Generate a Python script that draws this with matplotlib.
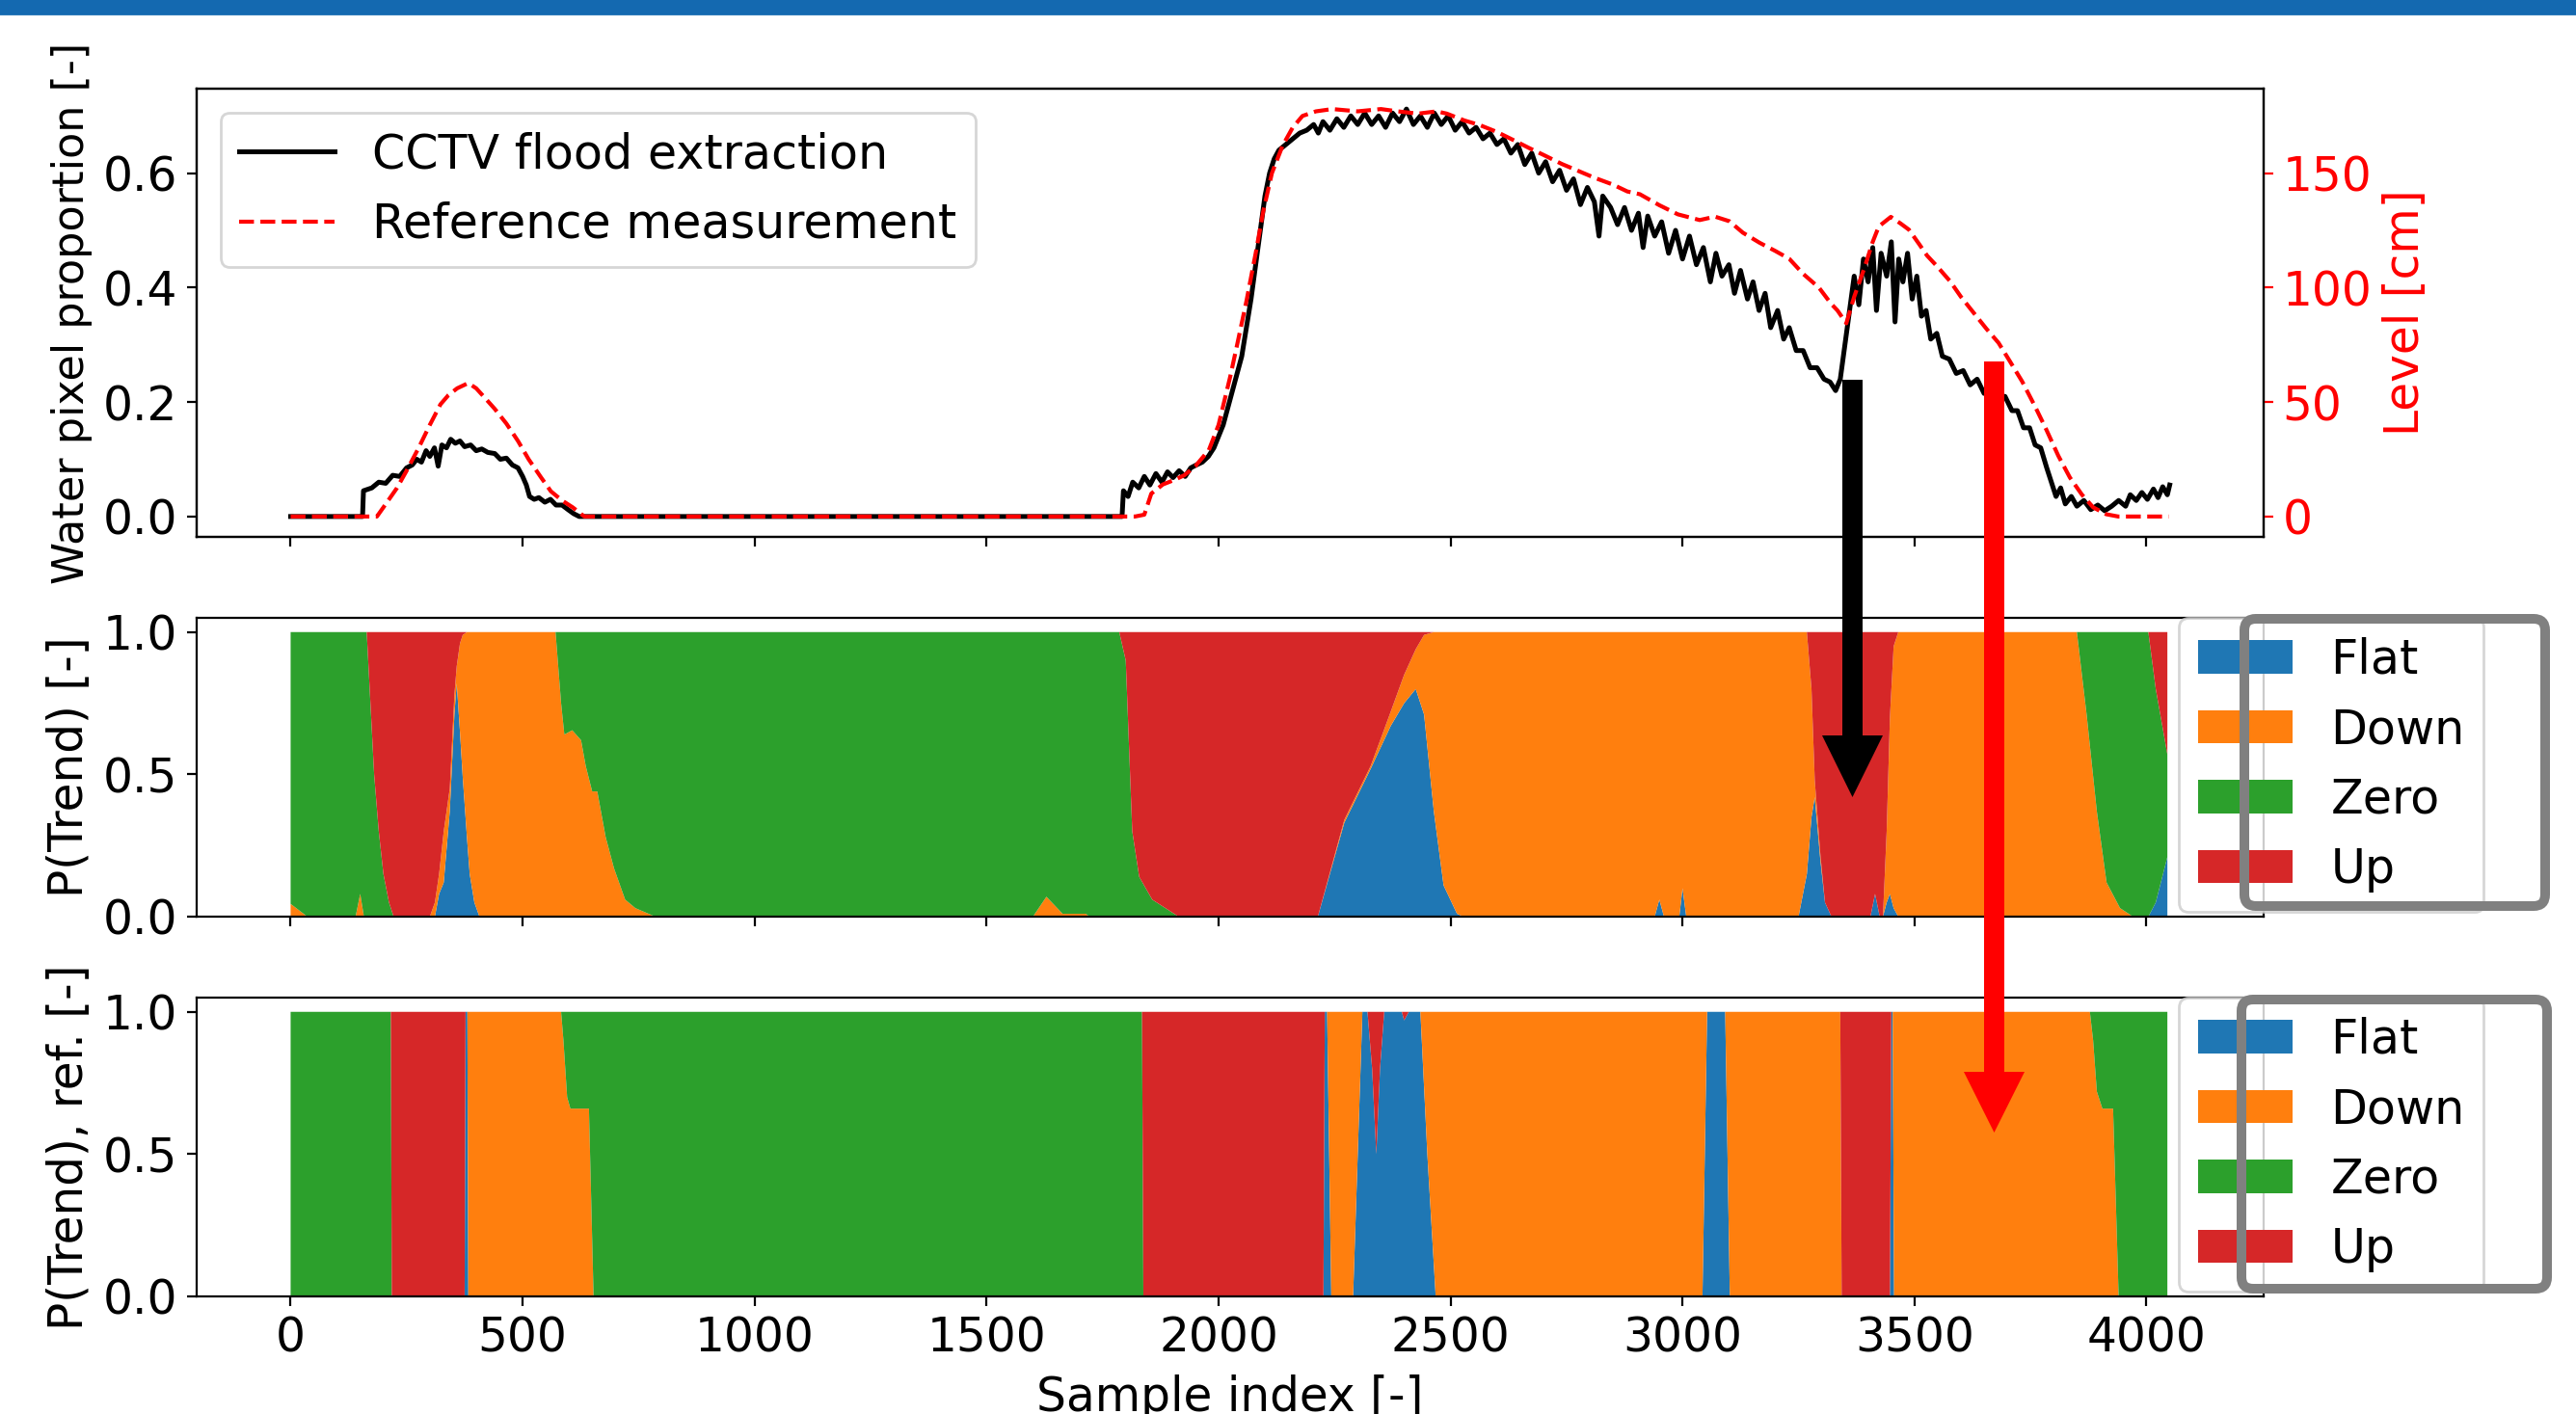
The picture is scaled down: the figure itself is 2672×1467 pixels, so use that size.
import matplotlib
matplotlib.use('Agg')
import matplotlib.pyplot as plt
from matplotlib.patches import FancyBboxPatch, FancyArrow, Rectangle
from matplotlib.transforms import IdentityTransform
import numpy as np

# ---------------- top panel: water pixel proportion and reference level --------------
cctv_x = [0, 155, 157, 175, 190, 205, 220, 235, 250, 262, 272, 282, 292, 300, 310, 318,
          326, 336, 345, 355, 365, 375, 388, 400, 412, 425, 440, 452, 465, 478, 490, 500,
          508, 515, 525, 535, 548, 560, 572, 585, 598, 610, 622,
          1790, 1792, 1795, 1805, 1815, 1828, 1840, 1852, 1865, 1878, 1890, 1902, 1915,
          1928, 1940, 1952, 1965, 1978, 1990, 2000, 2010, 2020, 2030, 2040, 2050, 2060,
          2070, 2080, 2090, 2100, 2110, 2120, 2130, 2145, 2160, 2175, 2190, 2205, 2215,
          2225, 2240, 2255, 2270, 2285, 2300, 2315, 2330, 2345, 2360, 2375, 2390, 2405,
          2420, 2435, 2450, 2465, 2480, 2495, 2510, 2525, 2540, 2555, 2570, 2585, 2600,
          2615, 2630, 2645, 2660, 2675, 2690, 2705, 2720, 2735, 2750, 2765, 2780, 2795,
          2810, 2820, 2828, 2845, 2860, 2875, 2890, 2905, 2915, 2925, 2940, 2955, 2970,
          2985, 3000, 3015, 3030, 3045, 3060, 3072, 3085, 3100, 3112, 3125, 3140, 3152,
          3165, 3178, 3190, 3205, 3218, 3230, 3245, 3260, 3275, 3290, 3305, 3318, 3330,
          3340, 3350, 3360, 3370, 3380, 3390, 3400, 3410, 3418, 3428, 3440, 3450, 3458,
          3466, 3475, 3485, 3495, 3505, 3515, 3525, 3535, 3548, 3560, 3575, 3590, 3605,
          3620, 3635, 3650, 3665, 3680, 3695, 3710, 3722, 3735, 3748, 3760, 3772, 3785,
          3795, 3805, 3815, 3825, 3838, 3850, 3865, 3880, 3895, 3910, 3925, 3940, 3955,
          3965, 3978, 3990, 4002, 4015, 4025, 4035, 4045, 4050]
cctv_y = [0, 0, 0.045, 0.05, 0.06, 0.058, 0.072, 0.07, 0.085, 0.09, 0.1, 0.095, 0.115, 0.105,
          0.12, 0.088, 0.125, 0.12, 0.135, 0.128, 0.132, 0.122, 0.125, 0.115, 0.118, 0.112,
          0.11, 0.1, 0.102, 0.09, 0.085, 0.07, 0.055, 0.035, 0.03, 0.033, 0.025, 0.03, 0.02,
          0.02, 0.012, 0.005, 0.0,
          0.0, 0.0, 0.045, 0.035, 0.06, 0.05, 0.07, 0.055, 0.075, 0.06, 0.078, 0.068, 0.08,
          0.07, 0.085, 0.09, 0.095, 0.105, 0.12, 0.14, 0.16, 0.19, 0.22, 0.25, 0.28, 0.33,
          0.38, 0.44, 0.5, 0.56, 0.6, 0.625, 0.64, 0.65, 0.66, 0.67, 0.675, 0.685, 0.67,
          0.69, 0.675, 0.695, 0.68, 0.7, 0.685, 0.705, 0.685, 0.7, 0.68, 0.705, 0.69, 0.712,
          0.685, 0.7, 0.68, 0.705, 0.685, 0.7, 0.675, 0.69, 0.67, 0.68, 0.66, 0.67, 0.65,
          0.66, 0.635, 0.65, 0.615, 0.635, 0.6, 0.62, 0.585, 0.605, 0.57, 0.59, 0.545, 0.575,
          0.55, 0.49, 0.56, 0.54, 0.51, 0.54, 0.5, 0.53, 0.47, 0.525, 0.49, 0.515, 0.46,
          0.5, 0.45, 0.49, 0.44, 0.47, 0.41, 0.46, 0.42, 0.44, 0.39, 0.43, 0.38, 0.41,
          0.36, 0.39, 0.33, 0.36, 0.31, 0.33, 0.29, 0.29, 0.26, 0.26, 0.24, 0.235, 0.22,
          0.24, 0.3, 0.36, 0.42, 0.37, 0.45, 0.41, 0.47, 0.36, 0.46, 0.42, 0.48, 0.34,
          0.45, 0.41, 0.46, 0.38, 0.42, 0.35, 0.36, 0.31, 0.32, 0.28, 0.275, 0.25, 0.255,
          0.23, 0.24, 0.215, 0.225, 0.2, 0.21, 0.185, 0.185, 0.155, 0.155, 0.125, 0.12, 0.085,
          0.06, 0.035, 0.05, 0.022, 0.035, 0.018, 0.028, 0.012, 0.02, 0.01, 0.018, 0.028, 0.018,
          0.038, 0.028, 0.042, 0.03, 0.048, 0.033, 0.052, 0.038, 0.055]

ref_x = [0, 186, 200, 229, 250, 276, 300, 323, 340, 359, 383, 400, 418, 440, 465, 490,
         513, 540, 561, 585, 608, 633,
         1820, 1840, 1855, 1880, 1905, 1926, 1950, 1979, 2000, 2025, 2040, 2060, 2080,
         2096, 2115, 2138, 2160, 2181, 2210, 2245, 2300, 2350, 2386, 2430, 2470, 2492,
         2530, 2563, 2600, 2640, 2669, 2700, 2740, 2775, 2810, 2850, 2881, 2908, 2950,
         2990, 3037, 3070, 3101, 3130, 3166, 3200, 3230, 3260, 3294, 3320, 3334, 3353,
         3370, 3391, 3410, 3423, 3449, 3470, 3488, 3510, 3527, 3550, 3577, 3600, 3629,
         3655, 3681, 3705, 3732, 3760, 3784, 3810, 3835, 3861, 3885, 3913, 3939, 4048]
ref_cm = [0, 0, 4, 12.4, 20, 30, 40, 49, 53, 56, 58.3, 56, 52, 47, 40.6, 33,
          25, 17, 11, 7, 4, 0,
          0, 0.8, 10, 14, 16, 18, 22, 29, 40, 61, 75, 94, 115,
          133, 150, 162, 170, 175, 177, 178, 177, 178, 177, 176, 177, 176,
          173, 171, 168, 164, 161, 158, 154, 151, 148, 145, 142, 140.8, 136,
          132, 129.5, 131, 129, 124, 119.6, 116, 112.6, 106, 100, 93, 90, 84.4,
          96, 108, 120, 126.7, 130.9, 128, 125.3, 119, 114, 109, 102.7, 96, 88.6,
          82, 75.9, 68, 59, 48, 38, 26.5, 17, 9.5, 4, 1, 0, 0]

# ---------------- middle panel: trend probabilities from CCTV --------------------
trend_labels = ['Flat', 'Down', 'Zero', 'Up']
cctv_t = [0, 36, 140, 150, 158, 164, 172, 180, 190, 200, 212, 222, 300, 311, 320, 330,
          343, 353, 358, 365, 371, 380, 386, 396, 407, 571, 583, 590, 607, 626, 636, 650,
          661, 679, 697, 721, 743, 786, 1600, 1629, 1664, 1714, 1722, 1786, 1800, 1807,
          1814, 1829, 1857, 1914, 2214, 2271, 2328, 2371, 2400, 2425, 2443, 2464, 2485,
          2514, 2528, 2940, 2950, 2960, 2993, 3000, 3008, 3250, 3268, 3278, 3285, 3297,
          3307, 3321, 3405, 3415, 3425, 3432, 3440, 3447, 3455, 3465, 3850, 3871, 3893,
          3914, 3943, 3971, 4004, 4020, 4045]
cctv_flat = [0, 0, 0, 0, 0, 0, 0, 0, 0, 0, 0, 0, 0, 0, .08, .12,
             .37, .71, .82, .65, .49, .28, .15, .05, 0, 0, 0, 0, 0, 0, 0, 0,
             0, 0, 0, 0, 0, 0, 0, 0, 0, 0, 0, 0, 0, 0,
             0, 0, 0, 0, 0, .33, .52, .67, .75, .8, .71, .37, .11,
             .01, 0, 0, .06, 0, 0, .1, 0, 0, .15, .35, .42, .2,
             .05, 0, 0, .08, 0, 0, .05, .08, .03, 0, 0, 0, 0,
             0, 0, 0, 0, .05, .21]
cctv_down = [.045, 0, 0, .08, 0, 0, 0, 0, 0, 0, 0, 0, 0, .05, .07, .18,
             .08, .07, .06, .31, .5, .72, .85, .95, 1, 1, .75, .64, .655, .62, .53, .44,
             .44, .28, .17, .06, .03, 0, 0, .07, .01, .01, 0, 0, 0, 0,
             0, 0, 0, 0, 0, .01, .01, .05, .1, .14, .28, .63, .89,
             .99, 1, 1, .94, 1, 1, .9, 1, 1, .85, .45, .06, .02,
             0, 0, 0, 0, 0, 0, .25, .62, .92, 1, 1, .71, .37,
             .12, .03, 0, 0, 0, 0]
cctv_zero = [.955, 1, 1, .92, 1, 1, .75, .5, .3, .15, .05, 0, 0, 0, 0, 0,
             0, 0, 0, 0, 0, 0, 0, 0, 0, 0, .25, .36, .345, .38, .47, .56,
             .56, .72, .83, .94, .97, 1, 1, .93, .99, .99, 1, 1, .9, .6,
             .3, .14, .06, 0, 0, 0, 0, 0, 0, 0, 0, 0, 0,
             0, 0, 0, 0, 0, 0, 0, 0, 0, 0, 0, 0, 0,
             0, 0, 0, 0, 0, 0, 0, 0, 0, 0, 0, .29, .63,
             .88, .97, 1, 1, .75, .36]
cctv_up = [0, 0, 0, 0, 0, 0, .25, .5, .7, .85, .95, 1, 1, .95, .85, .7,
           .55, .22, .12, .04, .01, 0, 0, 0, 0, 0, 0, 0, 0, 0, 0, 0,
           0, 0, 0, 0, 0, 0, 0, 0, 0, 0, 0, 0, .1, .4,
           .7, .86, .94, 1, 1, .66, .47, .28, .15, .06, .01, 0, 0,
           0, 0, 0, 0, 0, 0, 0, 0, 0, 0, .2, .52, .78,
           .95, 1, 1, .92, 1, 1, .7, .3, .05, 0, 0, 0, 0,
           0, 0, 0, 0, .2, .43]

# ---------------- bottom panel: trend probabilities from reference ----------------
ref_t = [0, 216, 218, 375, 377, 381, 383, 583, 588, 596, 603, 643, 653, 1835, 1838,
         2226, 2229, 2234, 2243, 2290, 2300, 2310, 2321, 2331, 2340, 2348, 2357, 2395,
         2400, 2410, 2435, 2450, 2468, 3043, 3048, 3053, 3092, 3097, 3102, 3340, 3343,
         3447, 3450, 3453, 3456, 3878, 3885, 3893, 3905, 3928, 3940, 4045]
ref_flat = [0, 0, 0, 0, 1, 1, 0, 0, 0, 0, 0, 0, 0, 0, 0,
            0, 1, 1, 0, 0, .5, 1, 1, .8, .5, .8, 1, 1,
            .97, 1, 1, .5, 0, 0, .5, 1, 1, .5, 0, 0, 0,
            0, 1, 1, 0, 0, 0, 0, 0, 0, 0, 0]
ref_down = [0, 0, 0, 0, 0, 0, 1, 1, .9, .7, .66, .66, 0, 0, 0,
            0, 0, 0, 1, 1, .5, 0, 0, 0, 0, 0, 0, 0,
            0, 0, 0, .5, 1, 1, .5, 0, 0, .5, 1, 1, 0,
            0, 0, 0, 1, 1, .9, .72, .66, .66, 0, 0]
ref_zero = [1, 1, 0, 0, 0, 0, 0, 0, .1, .3, .34, .34, 1, 1, 0,
            0, 0, 0, 0, 0, 0, 0, 0, 0, 0, 0, 0, 0,
            0, 0, 0, 0, 0, 0, 0, 0, 0, 0, 0, 0, 0,
            0, 0, 0, 0, 0, .1, .28, .34, .34, 1, 1]
ref_up = [0, 0, 1, 1, 0, 0, 0, 0, 0, 0, 0, 0, 0, 0, 1,
          1, 0, 0, 0, 0, 0, 0, 0, .2, .5, .2, 0, 0,
          .03, 0, 0, 0, 0, 0, 0, 0, 0, 0, 0, 0, 1,
          1, 0, 0, 0, 0, 0, 0, 0, 0, 0, 0]

# ---------------- figure layout (pixel based) ---------------------------------------
W, H, DPI = 2672, 1467, 200
FS = 17.5
LFS = 17.7
plt.rcParams['font.size'] = FS

fig = plt.figure(figsize=(W / DPI, H / DPI), dpi=DPI)


def box(left, top, right, bottom):
    return [left / W, 1 - bottom / H, (right - left) / W, (bottom - top) / H]


ax1 = fig.add_axes(box(204, 92, 2348, 557))
ax2 = fig.add_axes(box(204, 641, 2348, 951), sharex=ax1)
ax3 = fig.add_axes(box(204, 1035, 2348, 1345), sharex=ax1)

# top panel
ax1.plot(cctv_x, cctv_y, color='k', lw=1.8, label='CCTV flood extraction')
ax1.set_ylabel('Water pixel proportion [-]', fontsize=16)
ax1r = ax1.twinx()
ax1r.plot(ref_x, ref_cm, 'r--', lw=1.5, label='Reference measurement')
ax1r.set_ylabel('Level [cm]', color='r')
ax1r.tick_params(axis='y', colors='r')
lines = ax1.get_lines() + ax1r.get_lines()
ax1.legend(lines, [l.get_label() for l in lines], loc='upper left', fontsize=LFS)
ax1.tick_params(labelbottom=False)

# middle / bottom panels
ax2.stackplot(cctv_t, cctv_flat, cctv_down, cctv_zero, cctv_up, labels=trend_labels)
ax3.stackplot(ref_t, ref_flat, ref_down, ref_zero, ref_up, labels=trend_labels)
for ax in (ax2, ax3):
    ax.set_yticks([0.0, 0.5, 1.0])
    ax.legend(loc='upper left', bbox_to_anchor=(0.959, 1.0), borderaxespad=0,
              fontsize=LFS)
ax2.tick_params(labelbottom=False)
ax2.set_ylabel('P(Trend) [-]')
ax3.set_ylabel('P(Trend), ref. [-]')
ax3.set_xticks(np.arange(0, 4001, 500))
ax3.set_xlabel('Sample index [-]', labelpad=5)

# ---------------- slide overlays ----------------------------------------------------
px = IdentityTransform()
fig.add_artist(Rectangle((0, H - 14), W, 14, transform=px, color='#1469b0', zorder=20))

for (x0, y0, x1, y1) in [(2328, 642, 2640, 940), (2325, 1037, 2642, 1337)]:
    fig.add_artist(FancyBboxPatch((x0, H - y1), x1 - x0, y1 - y0,
                                  boxstyle='round,pad=0,rounding_size=12',
                                  transform=px, facecolor='none', edgecolor='#808080',
                                  linewidth=10 * 72 / DPI, zorder=20))

fig.add_artist(FancyArrow(1921.5, H - 394, 0, -(827 - 394), width=21, head_width=63,
                          head_length=64, length_includes_head=True, transform=px,
                          color='k', lw=0, zorder=21))
fig.add_artist(FancyArrow(2068.5, H - 375, 0, -(1175 - 375), width=21, head_width=63,
                          head_length=63, length_includes_head=True, transform=px,
                          color='#ff0000', lw=0, zorder=21))

fig.savefig('out.png', dpi=DPI)
